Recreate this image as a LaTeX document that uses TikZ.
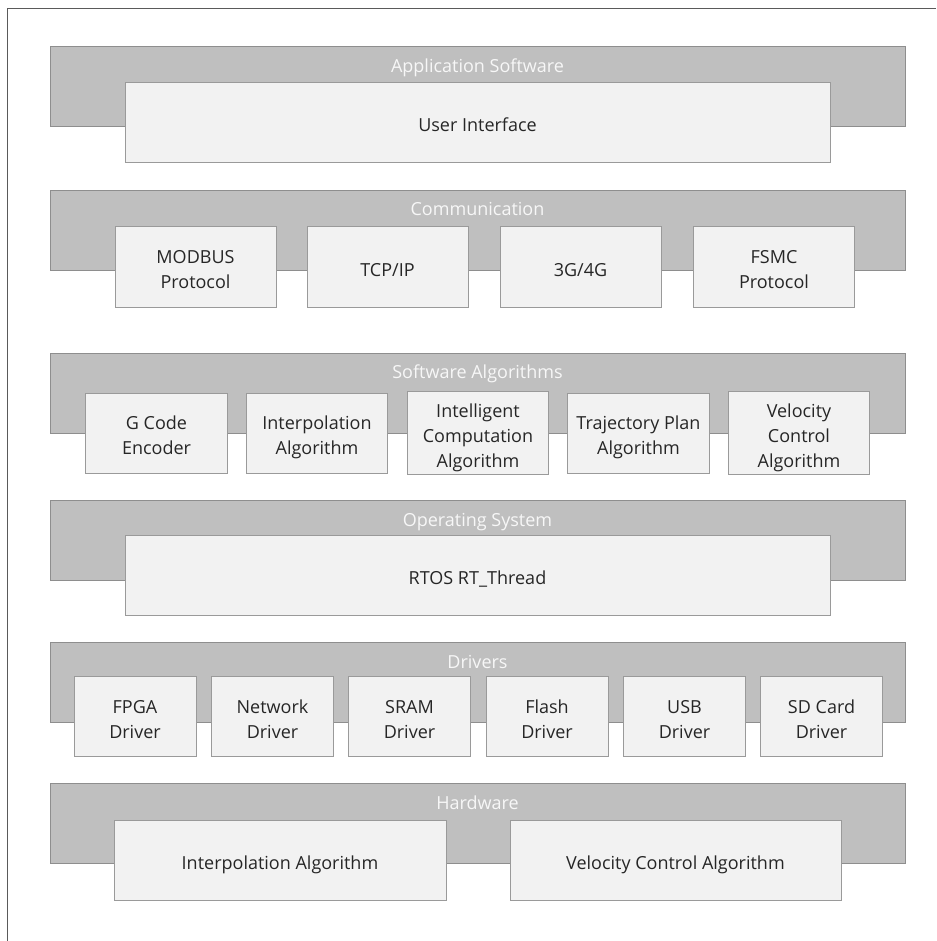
\documentclass[tikz,border=0pt]{standalone}
\usepackage{fontspec}
\setmainfont{Open Sans}
% a tall invisible rule that keeps the first text line at the same height in every box
\newcommand\topstrut{\rule{0pt}{25.5pt}}
\begin{document}
\begin{tikzpicture}[x=1pt,y=-1pt,
  every node/.style={font=\fontsize{18}{25}\selectfont, align=center, inner sep=0pt,
    execute at begin node=\topstrut, execute at end node=\strut},
  band/.style={draw=bandline, fill=bandfill, line width=1pt, minimum width=855pt, minimum height=80pt},
  bandtitle/.style={text=titletext},
  block/.style={draw=blockline, fill=blockfill, line width=1pt, minimum height=80pt, text=blocktext},
  frameline/.style={draw=framegray, line width=1.6pt}]
\definecolor{bandfill}{HTML}{BFBFBF}
\definecolor{bandline}{HTML}{8E8E8E}
\definecolor{blockfill}{HTML}{F2F2F2}
\definecolor{blockline}{HTML}{9A9A9A}
\definecolor{blocktext}{HTML}{262626}
\definecolor{titletext}{HTML}{F7F7F7}
\definecolor{framegray}{HTML}{5A5A5A}

\useasboundingbox (0,0) rectangle (936,941);
\fill[white] (0,0) rectangle (936,941);

% outer frame (open at right and bottom)
\draw[frameline] (7.5,941) -- (7.5,8.5) -- (936,8.5);

% layer bands
\node[band] (app)  at (477.5,87)    {};
\node[band] (comm) at (477.5,230.5) {};
\node[band] (alg)  at (477.5,393)   {};
\node[band] (os)   at (477.5,540.5) {};
\node[band] (drv)  at (477.5,682.5) {};
\node[band] (hw)   at (477.5,823.5) {};

% band titles
\node[bandtitle] (appT)  at (477.5,63.5)  {Application Software};
\node[bandtitle] (commT) at (477.5,207)   {Communication};
\node[bandtitle] (algT)  at (477.5,369.5) {Software Algorithms};
\node[bandtitle] (osT)   at (477.5,517)   {Operating System};
\node[bandtitle] (drvT)  at (477.5,659)   {Drivers};
\node[bandtitle] (hwT)   at (477.5,800)   {Hardware};

% application software
\node[block, minimum width=705pt] (ui) at (477.5,123) {User Interface};

% communication
\node[block, minimum width=161pt] (modbus) at (195.5,267) {\topstrut MODBUS\\Protocol};
\node[block, minimum width=161pt] (tcp)    at (387.5,267) {TCP/IP};
\node[block, minimum width=161pt] (g34)    at (580.5,267) {3G/4G};
\node[block, minimum width=161pt] (fsmc)   at (774,267)   {\topstrut FSMC\\Protocol};

% software algorithms
\node[block, minimum width=141.5pt] (gcode) at (156.5,433) {\topstrut G Code\\Encoder};
\node[block, minimum width=141.5pt] (interp) at (317,433)  {\topstrut Interpolation\\Algorithm};
\node[block, minimum width=141.5pt] (intel) at (478,433)   {\topstrut Intelligent\\Computation\\Algorithm};
\node[block, minimum width=141.5pt] (traj)  at (638.5,433) {\topstrut Trajectory Plan\\Algorithm};
\node[block, minimum width=141.5pt] (velo)  at (799,433)   {\topstrut Velocity\\Control\\Algorithm};

% operating system
\node[block, minimum width=705pt] (rtos) at (477.5,575.5) {RTOS RT\_Thread};

% drivers
\node[block, minimum width=122pt] (fpga)  at (135,716.5)   {\topstrut FPGA\\Driver};
\node[block, minimum width=122pt] (net)   at (272.5,716.5) {\topstrut Network\\Driver};
\node[block, minimum width=122pt] (sram)  at (409.5,716.5) {\topstrut SRAM\\Driver};
\node[block, minimum width=122pt] (flash) at (547,716.5)   {\topstrut Flash\\Driver};
\node[block, minimum width=122pt] (usb)   at (684.5,716.5) {\topstrut USB\\Driver};
\node[block, minimum width=122pt] (sd)    at (821.5,716.5) {\topstrut SD Card\\Driver};

% hardware
\node[block, minimum width=332pt] (hwinterp) at (280,860.5)   {Interpolation Algorithm};
\node[block, minimum width=331pt] (hwvelo)   at (675.5,860.5) {Velocity Control Algorithm};
\end{tikzpicture}
\end{document}
